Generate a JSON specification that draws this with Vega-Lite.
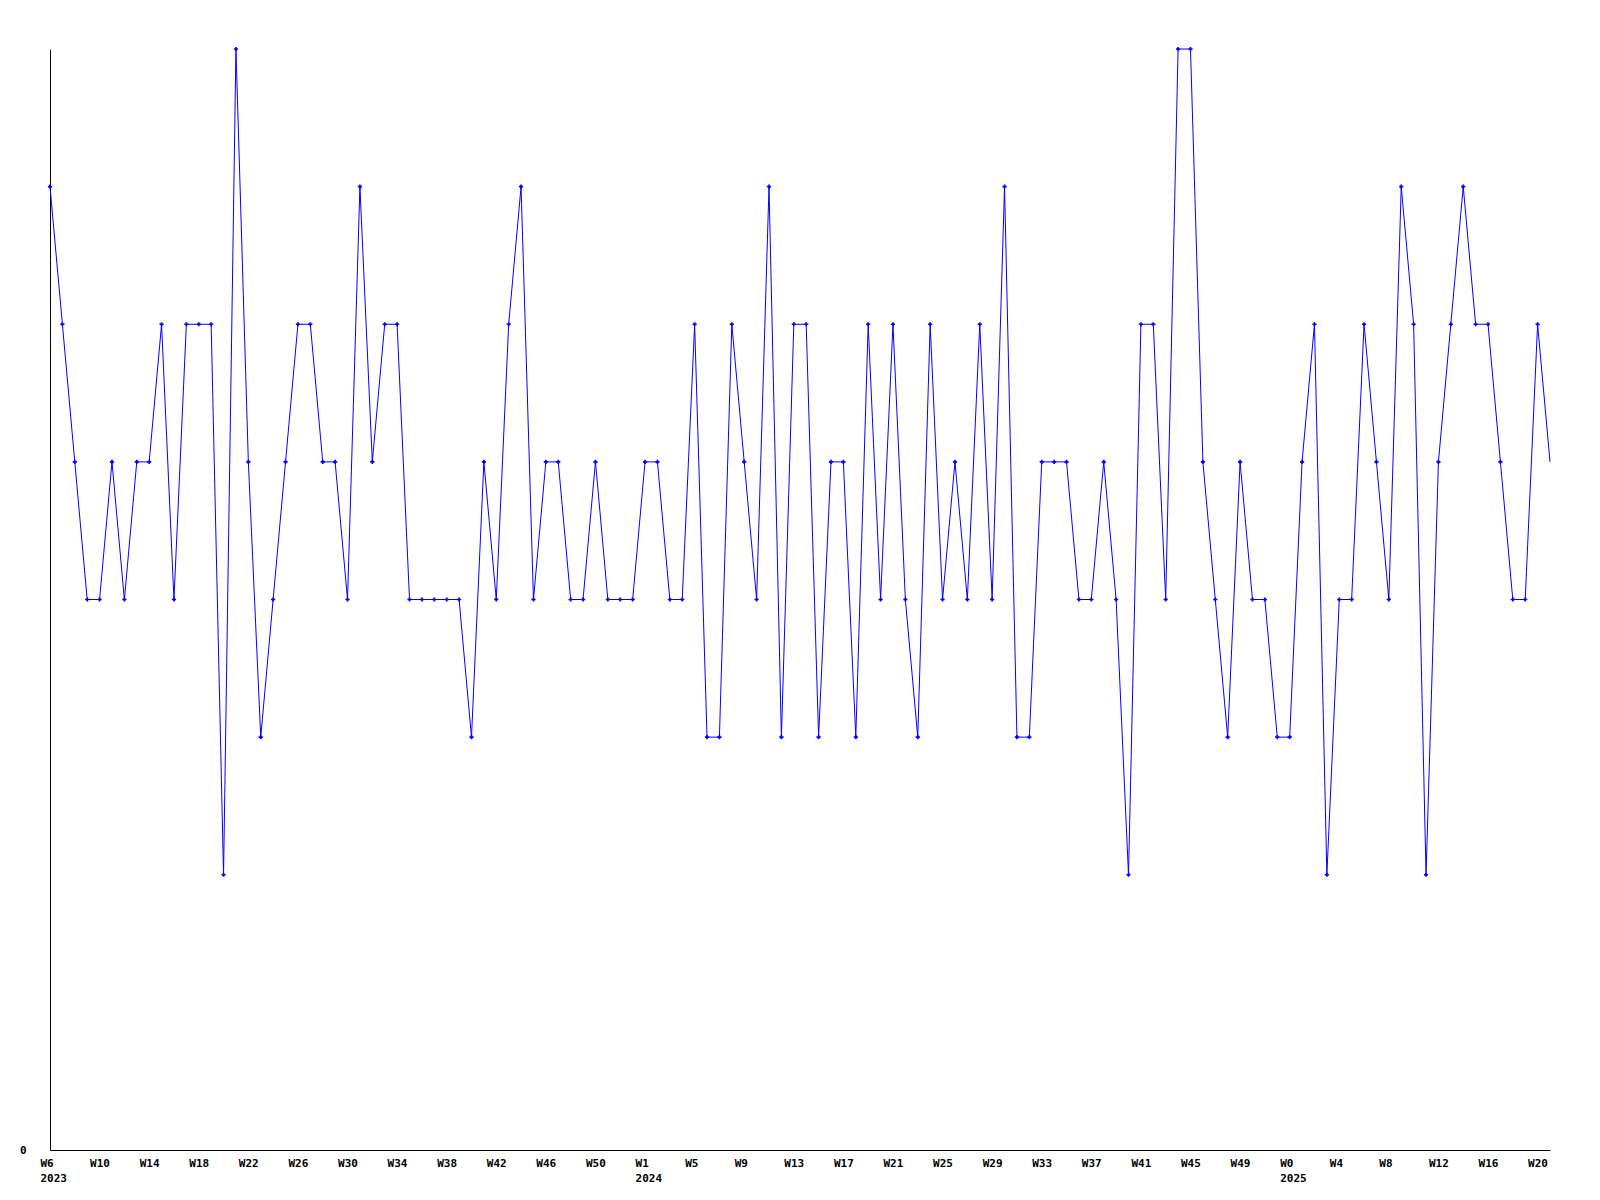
{
  "$schema": "https://vega.github.io/schema/vega-lite/v6.json",
  "autosize": "none",
  "padding": {"left": 50, "top": 49, "right": 50, "bottom": 50},
  "width": 1500,
  "height": 1101,
  "background": "white",
  "config": {"view": {"stroke": null}},
  "data": {"values": [
    {"period": "2023-W06", "value": 7}, {"period": "2023-W07", "value": 6}, {"period": "2023-W08", "value": 5}, {"period": "2023-W09", "value": 4},
    {"period": "2023-W10", "value": 4}, {"period": "2023-W11", "value": 5}, {"period": "2023-W12", "value": 4}, {"period": "2023-W13", "value": 5},
    {"period": "2023-W14", "value": 5}, {"period": "2023-W15", "value": 6}, {"period": "2023-W16", "value": 4}, {"period": "2023-W17", "value": 6},
    {"period": "2023-W18", "value": 6}, {"period": "2023-W19", "value": 6}, {"period": "2023-W20", "value": 2}, {"period": "2023-W21", "value": 8},
    {"period": "2023-W22", "value": 5}, {"period": "2023-W23", "value": 3}, {"period": "2023-W24", "value": 4}, {"period": "2023-W25", "value": 5},
    {"period": "2023-W26", "value": 6}, {"period": "2023-W27", "value": 6}, {"period": "2023-W28", "value": 5}, {"period": "2023-W29", "value": 5},
    {"period": "2023-W30", "value": 4}, {"period": "2023-W31", "value": 7}, {"period": "2023-W32", "value": 5}, {"period": "2023-W33", "value": 6},
    {"period": "2023-W34", "value": 6}, {"period": "2023-W35", "value": 4}, {"period": "2023-W36", "value": 4}, {"period": "2023-W37", "value": 4},
    {"period": "2023-W38", "value": 4}, {"period": "2023-W39", "value": 4}, {"period": "2023-W40", "value": 3}, {"period": "2023-W41", "value": 5},
    {"period": "2023-W42", "value": 4}, {"period": "2023-W43", "value": 6}, {"period": "2023-W44", "value": 7}, {"period": "2023-W45", "value": 4},
    {"period": "2023-W46", "value": 5}, {"period": "2023-W47", "value": 5}, {"period": "2023-W48", "value": 4}, {"period": "2023-W49", "value": 4},
    {"period": "2023-W50", "value": 5}, {"period": "2023-W51", "value": 4}, {"period": "2023-W52", "value": 4}, {"period": "2023-W53", "value": 4},
    {"period": "2024-W01", "value": 5}, {"period": "2024-W02", "value": 5}, {"period": "2024-W03", "value": 4}, {"period": "2024-W04", "value": 4},
    {"period": "2024-W05", "value": 6}, {"period": "2024-W06", "value": 3}, {"period": "2024-W07", "value": 3}, {"period": "2024-W08", "value": 6},
    {"period": "2024-W09", "value": 5}, {"period": "2024-W10", "value": 4}, {"period": "2024-W11", "value": 7}, {"period": "2024-W12", "value": 3},
    {"period": "2024-W13", "value": 6}, {"period": "2024-W14", "value": 6}, {"period": "2024-W15", "value": 3}, {"period": "2024-W16", "value": 5},
    {"period": "2024-W17", "value": 5}, {"period": "2024-W18", "value": 3}, {"period": "2024-W19", "value": 6}, {"period": "2024-W20", "value": 4},
    {"period": "2024-W21", "value": 6}, {"period": "2024-W22", "value": 4}, {"period": "2024-W23", "value": 3}, {"period": "2024-W24", "value": 6},
    {"period": "2024-W25", "value": 4}, {"period": "2024-W26", "value": 5}, {"period": "2024-W27", "value": 4}, {"period": "2024-W28", "value": 6},
    {"period": "2024-W29", "value": 4}, {"period": "2024-W30", "value": 7}, {"period": "2024-W31", "value": 3}, {"period": "2024-W32", "value": 3},
    {"period": "2024-W33", "value": 5}, {"period": "2024-W34", "value": 5}, {"period": "2024-W35", "value": 5}, {"period": "2024-W36", "value": 4},
    {"period": "2024-W37", "value": 4}, {"period": "2024-W38", "value": 5}, {"period": "2024-W39", "value": 4}, {"period": "2024-W40", "value": 2},
    {"period": "2024-W41", "value": 6}, {"period": "2024-W42", "value": 6}, {"period": "2024-W43", "value": 4}, {"period": "2024-W44", "value": 8},
    {"period": "2024-W45", "value": 8}, {"period": "2024-W46", "value": 5}, {"period": "2024-W47", "value": 4}, {"period": "2024-W48", "value": 3},
    {"period": "2024-W49", "value": 5}, {"period": "2024-W50", "value": 4}, {"period": "2024-W51", "value": 4}, {"period": "2024-W52", "value": 3},
    {"period": "2025-W00", "value": 3}, {"period": "2025-W01", "value": 5}, {"period": "2025-W02", "value": 6}, {"period": "2025-W03", "value": 2},
    {"period": "2025-W04", "value": 4}, {"period": "2025-W05", "value": 4}, {"period": "2025-W06", "value": 6}, {"period": "2025-W07", "value": 5},
    {"period": "2025-W08", "value": 4}, {"period": "2025-W09", "value": 7}, {"period": "2025-W10", "value": 6}, {"period": "2025-W11", "value": 2},
    {"period": "2025-W12", "value": 5}, {"period": "2025-W13", "value": 6}, {"period": "2025-W14", "value": 7}, {"period": "2025-W15", "value": 6},
    {"period": "2025-W16", "value": 6}, {"period": "2025-W17", "value": 5}, {"period": "2025-W18", "value": 4}, {"period": "2025-W19", "value": 4},
    {"period": "2025-W20", "value": 6}, {"period": "2025-W21", "value": 5}
  ]},
  "encoding": {
    "x": {
      "field": "period",
      "type": "ordinal",
      "scale": {"type": "point", "padding": 0},
      "axis": {
        "title": null,
        "values": ["2023-W06","2023-W10","2023-W14","2023-W18","2023-W22","2023-W26","2023-W30","2023-W34","2023-W38","2023-W42","2023-W46","2023-W50","2024-W01","2024-W05","2024-W09","2024-W13","2024-W17","2024-W21","2024-W25","2024-W29","2024-W33","2024-W37","2024-W41","2024-W45","2024-W49","2025-W00","2025-W04","2025-W08","2025-W12","2025-W16","2025-W20"],
        "labelExpr": "datum.value == '2023-W06' ? ['W6','2023'] : datum.value == '2024-W01' ? ['W1','2024'] : datum.value == '2025-W00' ? ['W0','2025'] : 'W' + toNumber(substring(datum.value, 6))",
        "labelAngle": 0,
        "labelAlign": "left",
        "labelOffset": -10,
        "labelBaseline": "top",
        "labelPadding": 7,
        "labelLineHeight": 15,
        "labelFont": "DejaVu Sans Mono",
        "labelFontWeight": "bold",
        "labelFontSize": 11,
        "labelColor": "black",
        "labelOverlap": false,
        "labelBound": false,
        "ticks": false,
        "grid": false,
        "domainColor": "black",
        "domainWidth": 1
      }
    },
    "y": {
      "field": "value",
      "type": "quantitative",
      "scale": {"domain": [0, 8], "nice": false, "zero": true},
      "axis": {
        "title": null,
        "values": [0],
        "labelFont": "DejaVu Sans Mono",
        "labelFontWeight": "bold",
        "labelFontSize": 11,
        "labelColor": "black",
        "labelPadding": 24,
        "ticks": false,
        "grid": false,
        "domainColor": "black",
        "domainWidth": 1
      }
    }
  },
  "layer": [
    {"mark": {"type": "line", "color": "#0000ff", "strokeWidth": 1}},
    {
      "transform": [{"filter": "datum.period != '2025-W21'"}],
      "mark": {"type": "point", "shape": "cross", "filled": true, "size": 18, "color": "#0000ff", "opacity": 1}
    }
  ]
}
